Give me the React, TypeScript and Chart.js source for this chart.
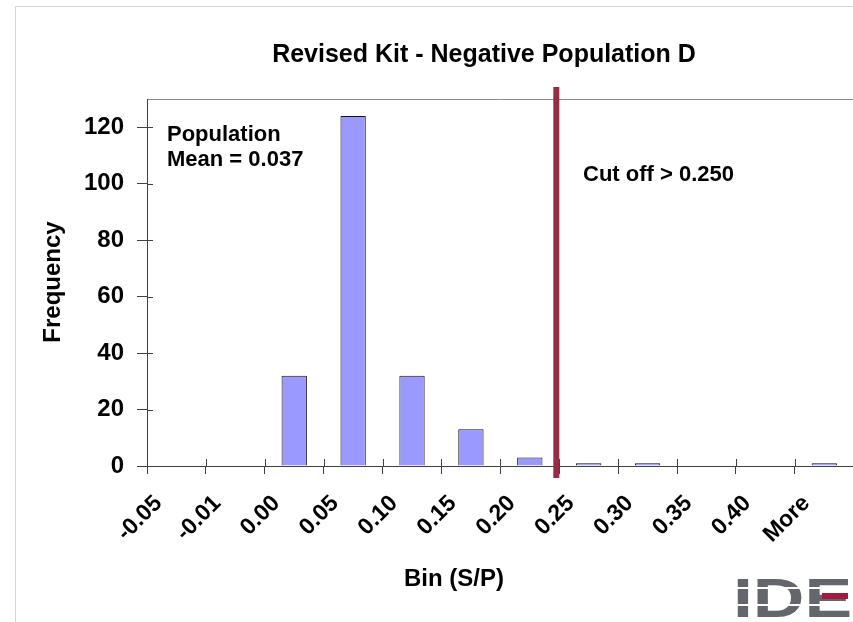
import React, { useEffect, useRef } from 'react';
import { Chart, registerables } from 'chart.js';

Chart.register(...registerables);

// ---- data ----
const categories = ['-0.05', '-0.01', '0.00', '0.05', '0.10', '0.15', '0.20', '0.25', '0.30', '0.35', '0.40', 'More'];
const frequencies = [0, 0, 32, 124, 32, 13, 3, 1, 1, 0, 0, 1];
const yTickValues = [0, 20, 40, 60, 80, 100, 120];
const yAxisMax = 130;
const cutoffCategoryPosition = 6.45; // between the 0.20 and 0.25 bins
const chartTitle = 'Revised Kit - Negative Population D';
const yAxisTitle = 'Frequency';
const xAxisTitle = 'Bin (S/P)';
const meanNote = ['Population', 'Mean = 0.037'];
const cutoffNote = 'Cut off > 0.250';
const logoText = 'IDEXX';

const FONT = '"Liberation Sans", Arial, sans-serif';
const AXIS = '#404040';
const MAROON = '#962D47';

const decorPlugin = {
  id: 'decor',
  beforeDraw(chart: any) {
    const { ctx, chartArea: a } = chart;
    ctx.save();
    ctx.fillStyle = '#ffffff';
    ctx.fillRect(0, 0, chart.width, chart.height);
    // slide frame
    ctx.strokeStyle = '#d6d6d6';
    ctx.lineWidth = 1;
    ctx.strokeRect(15.5, 6.5, 2000, 2000);
    // plot top border
    ctx.strokeStyle = '#8a8a8a';
    ctx.beginPath();
    ctx.moveTo(a.left, Math.round(a.top) + 0.5);
    ctx.lineTo(a.right, Math.round(a.top) + 0.5);
    ctx.stroke();
    ctx.restore();
  },
  afterDatasetsDraw(chart: any) {
    const { ctx, chartArea: a, scales } = chart;
    const x = scales.x;
    const y = scales.y;
    ctx.save();
    // inner halves of the crossing tick marks
    ctx.strokeStyle = AXIS;
    ctx.lineWidth = 1;
    ctx.beginPath();
    for (const v of yTickValues) {
      const py = Math.round(y.getPixelForValue(v)) + 0.5;
      ctx.moveTo(a.left, py);
      ctx.lineTo(a.left + 6, py);
    }
    for (let i = 0; i <= categories.length; i++) {
      const px = Math.round(x.getPixelForValue(i - 0.5)) + 0.5;
      ctx.moveTo(px, a.bottom);
      ctx.lineTo(px, a.bottom - 7);
    }
    ctx.stroke();

    // cut-off line
    const cx = x.getPixelForValue(cutoffCategoryPosition);
    ctx.fillStyle = MAROON;
    ctx.fillRect(cx - 3, a.top - 12, 6, a.bottom - a.top + 24);
    ctx.restore();
  },
  afterDraw(chart: any) {
    const { ctx } = chart;
    ctx.save();
    ctx.fillStyle = '#000';
    ctx.textBaseline = 'alphabetic';

    ctx.font = `bold 25px ${FONT}`;
    ctx.textAlign = 'center';
    ctx.fillText(chartTitle, 484, 62);

    ctx.font = `bold 24px ${FONT}`;
    ctx.fillText(xAxisTitle, 454, 586);

    ctx.save();
    ctx.translate(60, 282);
    ctx.rotate(-Math.PI / 2);
    ctx.fillText(yAxisTitle, 0, 0);
    ctx.restore();

    ctx.font = `bold 22px ${FONT}`;
    ctx.textAlign = 'left';
    ctx.fillText(meanNote[0], 167, 141);
    ctx.fillText(meanNote[1], 167, 166);
    ctx.fillText(cutoffNote, 583, 181);

    // logo (partially cut at the right edge)
    ctx.save();
    ctx.translate(733, 617);
    ctx.scale(1.3, 1);
    ctx.font = `bold 55px ${FONT}`;
    ctx.fillStyle = '#63666A';
    ctx.fillText(logoText, 0, 0);
    ctx.restore();
    ctx.fillStyle = '#ffffff';
    ctx.fillRect(730, 587, 130, 2);
    ctx.fillRect(730, 604, 130, 2);
    ctx.fillStyle = '#A31A3E';
    ctx.fillRect(822, 593, 26, 6);
    ctx.restore();
  },
};

export default function App() {
  const canvasRef = useRef<HTMLCanvasElement | null>(null);

  useEffect(() => {
    const canvas = canvasRef.current;
    if (!canvas) return;
    const chart = new Chart(canvas, {
      type: 'bar',
      data: {
        labels: categories,
        datasets: [
          {
            label: 'Frequency',
            data: frequencies,
            backgroundColor: '#9999FF',
            borderColor: '#111111',
            borderWidth: 1,
            barPercentage: 0.43,
            categoryPercentage: 1,
          },
        ],
      },
      options: {
        responsive: false,
        animation: false,
        events: [],
        layout: { padding: { left: 0, right: 5, top: 99, bottom: 0 } },
        plugins: {
          legend: { display: false },
          title: { display: false },
          tooltip: { enabled: false },
        },
        scales: {
          x: {
            grid: {
              display: true,
              drawOnChartArea: false,
              drawTicks: true,
              tickLength: 8,
              color: AXIS,
              offset: true,
            },
            border: { display: true, color: AXIS, width: 1 },
            ticks: {
              autoSkip: false,
              maxRotation: 45,
              minRotation: 45,
              padding: 16,
              labelOffset: -18,
              color: '#000',
              font: { family: FONT, size: 23, weight: 'bold' },
            },
            afterFit(scale: any) {
              scale.height = 156;
            },
          },
          y: {
            min: 0,
            max: yAxisMax,
            grid: {
              display: true,
              drawOnChartArea: false,
              drawTicks: true,
              tickLength: 10,
              color: AXIS,
            },
            border: { display: true, color: AXIS, width: 1 },
            ticks: {
              stepSize: 20,
              padding: 13,
              color: '#000',
              font: { family: FONT, size: 24, weight: 'bold' },
            },
            afterBuildTicks(scale: any) {
              scale.ticks = yTickValues.map((v) => ({ value: v }));
            },
            afterFit(scale: any) {
              scale.width = 147;
            },
          },
        },
      },
      plugins: [decorPlugin],
    });
    return () => chart.destroy();
  }, []);

  return (
    <div
      style={{
        position: 'fixed',
        left: 0,
        top: 0,
        width: 853,
        height: 622,
        overflow: 'hidden',
        background: '#fff',
      }}
    >
      <canvas ref={canvasRef} width={860} height={622} style={{ display: 'block' }} />
    </div>
  );
}
